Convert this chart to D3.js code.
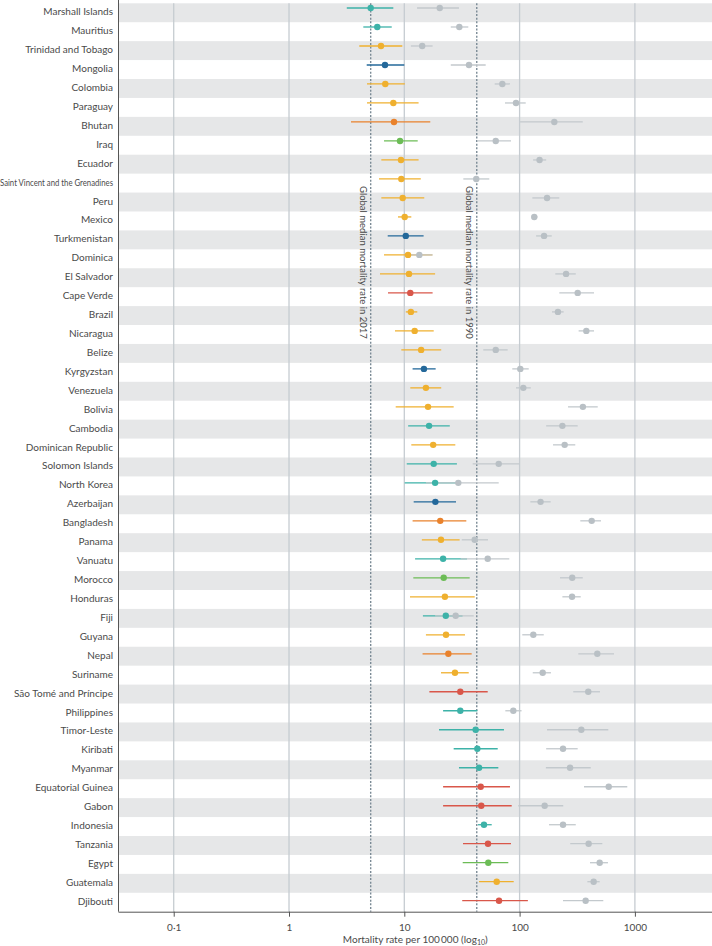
<!DOCTYPE html>
<html>
<head>
<meta charset="utf-8">
<script src="https://cdn.jsdelivr.net/npm/d3@7"></script>
<style>
  html, body { margin: 0; padding: 0; background: #fff; }
  svg { display: block; }
  text { font-family: Lato, "Noto Sans", sans-serif; fill: #4a4a4a; }
</style>
</head>
<body>
<svg id="chart" width="712" height="946"></svg>
<script>
// ---------------- DATA ----------------
const countries = [
  "Marshall Islands","Mauritius","Trinidad and Tobago","Mongolia","Colombia","Paraguay","Bhutan","Iraq",
  "Ecuador","Saint Vincent and the Grenadines","Peru","Mexico","Turkmenistan","Dominica","El Salvador",
  "Cape Verde","Brazil","Nicaragua","Belize","Kyrgyzstan","Venezuela","Bolivia","Cambodia",
  "Dominican Republic","Solomon Islands","North Korea","Azerbaijan","Bangladesh","Panama","Vanuatu",
  "Morocco","Honduras","Fiji","Guyana","Nepal","Suriname","São Tomé and Príncipe","Philippines",
  "Timor-Leste","Kiribati","Myanmar","Equatorial Guinea","Gabon","Indonesia","Tanzania","Egypt",
  "Guatemala","Djibouti"
];
// region group of each country (sets the colour of the 2017 estimate)
const region = [
  "SEAO","SEAO","LAC","CEECA","LAC","LAC","SA","NAME",
  "LAC","LAC","LAC","LAC","CEECA","LAC","LAC",
  "SSA","LAC","LAC","LAC","CEECA","LAC","LAC","SEAO",
  "LAC","SEAO","SEAO","CEECA","SA","LAC","SEAO",
  "NAME","LAC","SEAO","LAC","SA","LAC","SSA","SEAO",
  "SEAO","SEAO","SEAO","SSA","SSA","SEAO","SSA","NAME",
  "LAC","SSA"
];
// 2017 mortality rate per 100 000, with uncertainty interval
const rate2017 = [5.11,5.83,6.28,6.80,6.84,8.03,8.14,9.18,9.36,9.42,9.68,10.08,10.3,10.77,10.98,11.27,11.4,12.3,14.0,14.8,15.4,16.06,16.4,17.8,17.99,18.5,18.6,20.5,20.8,21.7,21.97,22.5,22.9,23.0,24.1,27.5,30.6,30.6,41.6,43.0,44.5,46.0,46.5,49.1,53.2,53.5,63.3,66.3];
const low2017  = [3.17,4.41,4.07,4.72,4.75,4.75,3.45,6.67,6.32,6.03,6.32,8.82,7.18,6.67,6.15,7.22,10.3,8.30,9.42,11.8,11.27,8.42,10.8,11.5,10.5,10.08,12.06,11.8,14.2,12.4,11.97,11.2,14.5,15.4,14.4,20.8,16.5,21.7,20.0,26.8,29.8,21.7,21.7,43.6,32.3,32.1,44.5,31.8];
const high2017 = [8.03,7.78,9.61,10.0,10.1,13.3,16.8,13.07,13.3,13.9,14.9,11.5,14.7,17.5,18.5,17.6,12.96,17.99,20.9,18.7,20.9,26.8,24.8,27.7,28.6,28.0,28.1,34.5,30.2,35.0,36.9,40.8,32.0,33.6,38.4,36.2,52.9,43.0,73.2,64.6,65.4,82.5,85.4,57.3,84.2,79.8,88.9,118];
// 1990 mortality rate per 100 000, with uncertainty interval
const rate1990 = [20.3,30.0,14.3,36.4,70.8,93.1,200,62.1,149,42.1,173,134,163,13.5,253,319,215,379,62.1,101.4,107.7,354,235,246,65.9,29.4,152,422,40.8,52.9,286,285,27.9,131.5,472,158.6,394,88.2,343,238,274,593,165,238,397,495,439,374];
const low1990  = [12.9,25.3,11.4,25.3,60.8,74.7,101,43.0,131,32.5,129,127,139,11.4,204,221,191,325,48.4,86.4,93.1,263,170,195,39.2,15.4,124,336,31.5,30.8,224,235,18.5,105.5,323,130,292,75.2,173,170,169,362,97.4,180,275,408,387,238];
const high1990 = [29.8,35.9,17.6,50.8,82.5,113,353,84.2,170,54.6,221,143,190,17.6,307,442,241,442,78.8,120,125,476,319,304,100.2,65.9,186,508,53.2,81.4,353,339,40.0,162,659,187,498,104,588,319,414,859,239,307,522,584,495,532];

const xTicks = [0.1, 1, 10, 100, 1000];
const xTickLabels = ["0·1", "1", "10", "100", "1000"];
const medianValues = [5.11, 42.5];
const medianLabels = ["Global median mortality rate in 2017", "Global median mortality rate in 1990"];

// ---------------- STYLE ----------------
const regionColor = {
  SEAO: "#3db2a8", LAC: "#efb02f", CEECA: "#23689a", SA: "#e9822c", NAME: "#6cbc56", SSA: "#d9574a"
};
const grey1990 = "#b9c0c5";

// ---------------- LAYOUT ----------------
const svg = d3.select("#chart");
const plotLeft = 118.5, plotRight = 712, plotTop = 3.3, plotBottom = 911.7;

const x = d3.scaleLog().domain([0.0332, 4664]).range([plotLeft, plotRight]);
const yBand = d3.scaleBand().domain(countries).range([plotTop, plotBottom]).padding(0);
const yPt = d3.scalePoint().domain(countries).range([8, 900.7]);

const rows = countries.map((c, i) => ({
  c, i, reg: region[i],
  v17: rate2017[i], lo17: low2017[i], hi17: high2017[i],
  v90: rate1990[i], lo90: low1990[i], hi90: high1990[i]
}));

// bands
svg.append("g").selectAll("rect").data(rows.filter(d => d.i % 2 === 0)).join("rect")
  .attr("x", plotLeft).attr("width", plotRight - plotLeft)
  .attr("y", d => yBand(d.c)).attr("height", yBand.bandwidth())
  .attr("fill", "#e6e7e8");

// gridlines
svg.append("g").selectAll("line").data(xTicks).join("line")
  .attr("x1", d => x(d)).attr("x2", d => x(d))
  .attr("y1", plotTop).attr("y2", plotBottom)
  .attr("stroke", "#c6ccd1").attr("stroke-width", 1.3);

// median dotted lines
svg.append("g").selectAll("line").data(medianValues).join("line")
  .attr("x1", d => x(d)).attr("x2", d => x(d))
  .attr("y1", plotTop).attr("y2", plotBottom)
  .attr("stroke", "#7a8a95").attr("stroke-width", 1.4)
  .attr("stroke-dasharray", "2,1.6");

// median labels
svg.append("g").selectAll("text").data(medianValues).join("text")
  .attr("transform", d => `translate(${x(d) - 8.5},186) rotate(90)`)
  .attr("dominant-baseline", "middle")
  .attr("font-size", 9.5)
  .attr("fill", "#444")
  .text((d, i) => medianLabels[i]);

// CI lines: 2017 coloured, then 1990 grey on top
svg.append("g").selectAll("line").data(rows).join("line")
  .attr("x1", d => x(d.lo17)).attr("x2", d => x(d.hi17))
  .attr("y1", d => yPt(d.c)).attr("y2", d => yPt(d.c))
  .attr("stroke", d => regionColor[d.reg]).attr("stroke-width", 1.3);
svg.append("g").selectAll("line").data(rows).join("line")
  .attr("x1", d => x(d.lo90)).attr("x2", d => x(d.hi90))
  .attr("y1", d => yPt(d.c)).attr("y2", d => yPt(d.c))
  .attr("stroke", "#c3c9cd").attr("stroke-width", 1.3);

// points
svg.append("g").selectAll("circle").data(rows).join("circle")
  .attr("cx", d => x(d.v90)).attr("cy", d => yPt(d.c)).attr("r", 3.2)
  .attr("fill", grey1990);
svg.append("g").selectAll("circle").data(rows).join("circle")
  .attr("cx", d => x(d.v17)).attr("cy", d => yPt(d.c)).attr("r", 3.2)
  .attr("fill", d => regionColor[d.reg]);

// y axis line and country labels
svg.append("line").attr("x1", plotLeft).attr("x2", plotLeft).attr("y1", 0).attr("y2", plotBottom)
  .attr("stroke", "#555").attr("stroke-width", 1);
svg.append("g").selectAll("text").data(rows).join("text")
  .attr("x", 113).attr("y", d => yBand(d.c) + yBand.bandwidth() / 2)
  .attr("text-anchor", "end").attr("dominant-baseline", "middle")
  .attr("font-size", 10)
  .each(function(d) {
    const t = d3.select(this).text(d.c);
    if (d.c.length > 25) t.attr("textLength", 113).attr("lengthAdjust", "spacingAndGlyphs");
  });

// x axis
const xAxis = d3.axisBottom(x).tickValues(xTicks).tickFormat((d, i) => xTickLabels[i]).tickSize(5).tickPadding(7);
const gx = svg.append("g").attr("transform", `translate(0,${plotBottom})`).call(xAxis);
gx.select(".domain").attr("stroke", "#555").attr("d", `M${plotLeft},0.5H${plotRight}`);
gx.selectAll(".tick line").attr("stroke", "#555");
gx.selectAll(".tick text").attr("font-size", 10).attr("fill", "#4a4a4a")
  .attr("font-family", "Lato, 'Noto Sans', sans-serif");

// axis title
const title = svg.append("text").attr("x", (plotLeft + plotRight) / 2).attr("y", 943)
  .attr("text-anchor", "middle").attr("font-size", 10);
title.append("tspan").text("Mortality rate per 100\u2009000 (log");
title.append("tspan").attr("font-size", 7).attr("dy", 2).text("10");
title.append("tspan").attr("dy", -2).text(")");
</script>
</body>
</html>
